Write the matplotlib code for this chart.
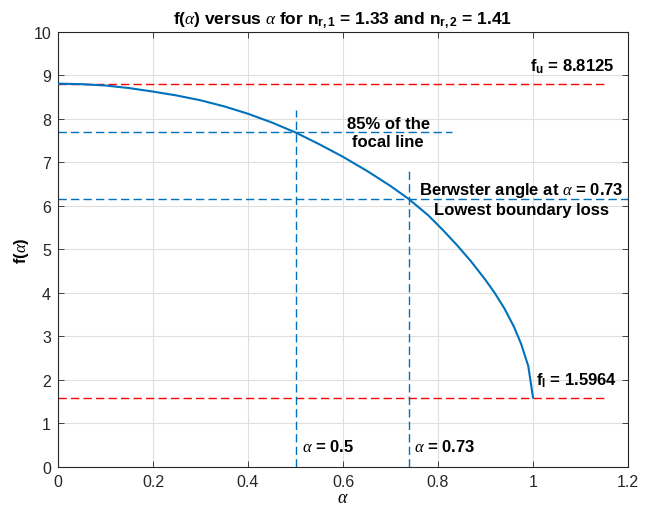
import matplotlib
matplotlib.use("Agg")
import matplotlib.pyplot as plt

# values
alpha = [0.0, 0.05, 0.1, 0.15, 0.2, 0.25, 0.3, 0.35, 0.4, 0.45, 0.5, 0.55, 0.6, 0.65,
         0.7, 0.7385, 0.78, 0.81, 0.84, 0.87, 0.9, 0.92, 0.94, 0.96, 0.975, 0.99, 1.0]
f_alpha = [8.8125, 8.80, 8.77, 8.71, 8.63, 8.54, 8.43, 8.29, 8.12, 7.92, 7.69, 7.42, 7.13, 6.81,
           6.46, 6.16, 5.78, 5.45, 5.10, 4.72, 4.30, 3.99, 3.64, 3.22, 2.83, 2.32, 1.5964]

f_u = 8.8125
f_l = 1.5964
alpha_85 = 0.5
f_85 = 7.69
alpha_b = 0.7385
f_b = 6.16

x_ticks = [0, 0.2, 0.4, 0.6, 0.8, 1, 1.2]
x_tick_labels = ["0", "0.2", "0.4", "0.6", "0.8", "1", "1.2"]
y_ticks = list(range(0, 11))

BLUE = "#0072BD"
RED = "#FF0000"

plt.rcParams['font.family'] = ['Liberation Sans', 'DejaVu Sans']
plt.rcParams['mathtext.fontset'] = 'custom'
plt.rcParams['mathtext.rm'] = 'Liberation Sans'
plt.rcParams['mathtext.it'] = 'Liberation Serif:italic'
plt.rcParams['mathtext.bf'] = 'Liberation Sans:bold'


def main():
    fig = plt.figure(figsize=(6.51, 5.06), dpi=100)
    ax = fig.add_axes([0.0891, 0.0751, 0.8756, 0.8597])

    dash = (6, 3)
    ax.plot(alpha, f_alpha, color=BLUE, lw=1.5, zorder=3)

    # bounds
    ax.plot([0, 1.15], [f_u, f_u], color=RED, lw=1, dashes=dash)
    ax.plot([0, 1.15], [f_l, f_l], color=RED, lw=1, dashes=dash)

    # 85% marker lines
    ax.plot([0, 0.83], [f_85, f_85], color=BLUE, lw=1, dashes=dash)
    ax.plot([alpha_85, alpha_85], [0, 8.2], color=BLUE, lw=1, dashes=dash)

    # brewster lines
    ax.plot([0, 1.2], [f_b, f_b], color=BLUE, lw=1, dashes=dash)
    ax.plot([alpha_b, alpha_b], [0, 6.8], color=BLUE, lw=1, dashes=dash)

    kw = dict(fontsize=12, fontweight='bold', va='center')
    ax.text(0.994, 9.22, r'f$_{\mathbf{u}}$ = 8.8125', ha='left', **kw)
    ax.text(1.006, 2.0, r'f$_{\mathbf{l}}$ = 1.5964', ha='left', **kw)
    ax.text(0.695, 7.69, '85% of the\nfocal line', ha='center',
            linespacing=1.2, **kw)
    ax.text(0.975, 6.17, 'Berwster angle at $\\alpha$ = 0.73\nLowest boundary loss',
            ha='center', linespacing=1.2, **kw)
    ax.text(0.514, 0.48, r'$\alpha$ = 0.5', ha='left', **kw)
    ax.text(0.75, 0.48, r'$\alpha$ = 0.73', ha='left', **kw)

    ax.set_xlim(0, 1.2)
    ax.set_ylim(0, 10)
    ax.set_xticks(x_ticks)
    ax.set_xticklabels(x_tick_labels)
    ax.set_yticks(y_ticks)
    ax.tick_params(direction='in', top=True, right=True, labelsize=11.5,
                   length=4, width=0.6, colors='#262626', pad=5)
    ax.grid(True, color='#dfdfdf', lw=0.8)
    ax.set_axisbelow(True)
    for s in ax.spines.values():
        s.set_color('#262626')
        s.set_linewidth(0.8)

    ax.set_title(r'f($\alpha$) versus $\alpha$ for n$_{\mathbf{r,1}}$ = 1.33 and n$_{\mathbf{r,2}}$ = 1.41',
                 fontsize=12.5, fontweight='bold', pad=6)
    ax.set_xlabel(r'$\alpha$', fontsize=13, fontweight='bold', labelpad=0)
    ax.set_ylabel(r'f($\alpha$)', fontsize=12, fontweight='bold', labelpad=2)

    fig.savefig("out.png", dpi=100)


if __name__ == '__main__':
    main()
